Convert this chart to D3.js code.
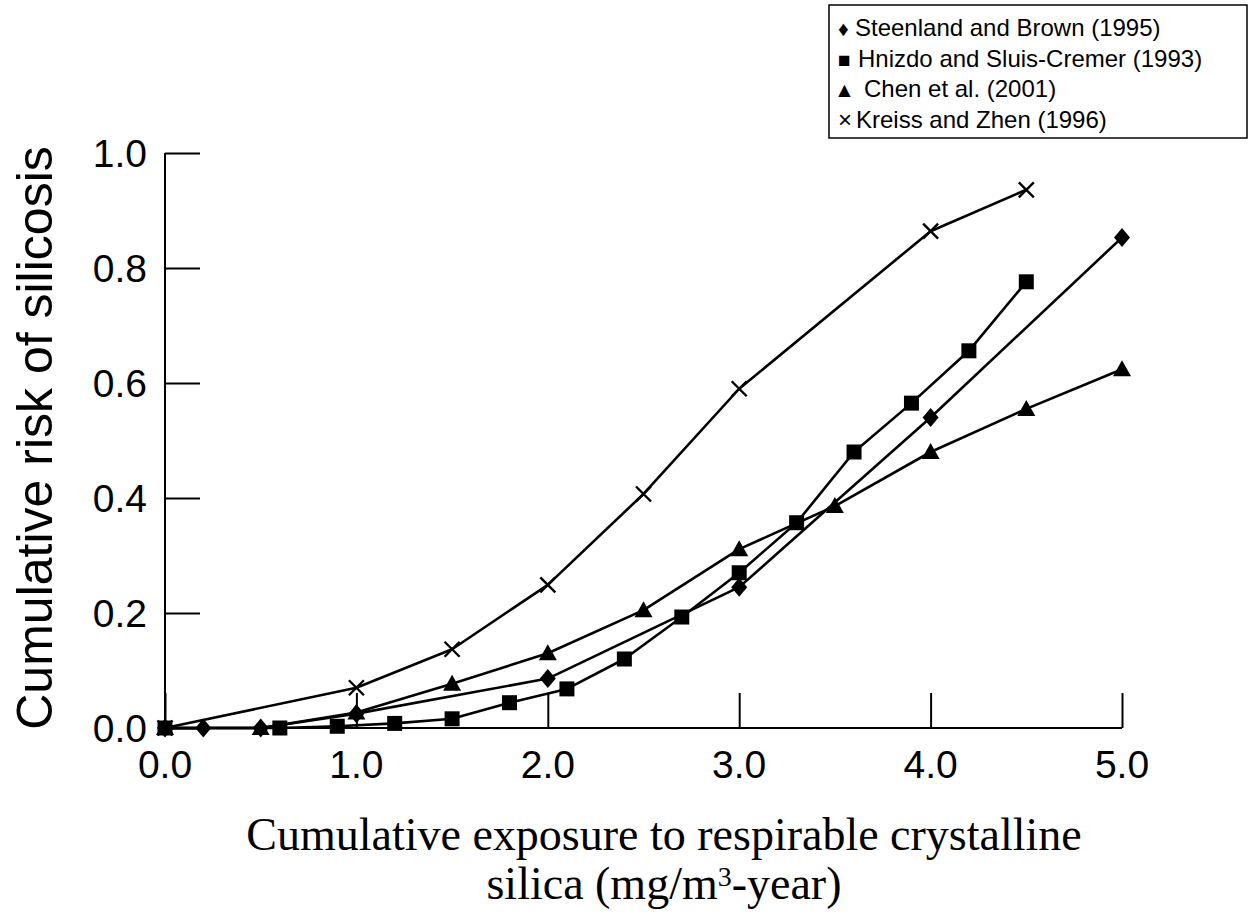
<!DOCTYPE html>
<html><head><meta charset="utf-8">
<script src="https://cdn.jsdelivr.net/npm/d3@7"></script>
<style>body{margin:0;background:#fff}svg{display:block}</style>
</head><body>
<svg id="c" width="1250" height="914"></svg>
<script>
// ---- data ----
const xTicks = [0, 1, 2, 3, 4, 5];
const yTicks = [0, 0.2, 0.4, 0.6, 0.8, 1.0];
const seriesNames = ["Steenland and Brown (1995)", "Hnizdo and Sluis-Cremer (1993)", "Chen et al. (2001)", "Kreiss and Zhen (1996)"];
const seriesSymbols = ["diamond", "square", "triangle", "cross"];
const legendGlyphs = ["\u2666", "\u25A0", "\u25B2", "\u00D7"];
const steenlandX = [0, 0.2, 0.5, 1.0, 2.0, 3.0, 4.0, 5.0];
const steenlandY = [0, 0, 0, 0.025, 0.086, 0.245, 0.54, 0.853];
const hnizdoX = [0, 0.6, 0.9, 1.2, 1.5, 1.8, 2.1, 2.4, 2.7, 3.0, 3.3, 3.6, 3.9, 4.2, 4.5];
const hnizdoY = [0, 0, 0.003, 0.008, 0.016, 0.044, 0.068, 0.12, 0.193, 0.27, 0.357, 0.48, 0.565, 0.656, 0.776];
const chenX = [0, 0.5, 1.0, 1.5, 2.0, 2.5, 3.0, 3.5, 4.0, 4.5, 5.0];
const chenY = [0, 0, 0.027, 0.077, 0.13, 0.205, 0.311, 0.386, 0.48, 0.555, 0.624];
const kreissX = [0, 1.0, 1.5, 2.0, 2.5, 3.0, 4.0, 4.5];
const kreissY = [0, 0.07, 0.137, 0.249, 0.407, 0.59, 0.864, 0.936];

const series = [
  {name: seriesNames[0], sym: seriesSymbols[0], xs: steenlandX, ys: steenlandY},
  {name: seriesNames[1], sym: seriesSymbols[1], xs: hnizdoX, ys: hnizdoY},
  {name: seriesNames[2], sym: seriesSymbols[2], xs: chenX, ys: chenY},
  {name: seriesNames[3], sym: seriesSymbols[3], xs: kreissX, ys: kreissY}
];

const svg = d3.select("#c");
const x = d3.scaleLinear().domain([0, 5]).range([165, 1122]);
const y = d3.scaleLinear().domain([0, 1]).range([728, 153]);
const SANS = "Liberation Sans, Arial, sans-serif";

// axes
const xAxis = d3.axisTop(x).tickValues(xTicks).tickSize(35).tickFormat("");
const gx = svg.append("g").attr("transform", "translate(0,728)").call(xAxis);
gx.select(".domain").remove();
gx.selectAll("line").attr("stroke", "#000").attr("stroke-width", 2);
svg.append("line").attr("x1", x(0)).attr("x2", x(5)).attr("y1", 728).attr("y2", 728).attr("stroke", "#000").attr("stroke-width", 2);

const yAxis = d3.axisRight(y).tickValues(yTicks).tickSize(35).tickFormat("");
const gy = svg.append("g").attr("transform", "translate(165,0)").call(yAxis);
gy.select(".domain").remove();
gy.selectAll("line").attr("stroke", "#000").attr("stroke-width", 2);
svg.append("line").attr("x1", 165).attr("x2", 165).attr("y1", y(1)).attr("y2", y(0)).attr("stroke", "#000").attr("stroke-width", 2);

// tick labels
svg.append("g").selectAll("text").data(yTicks).join("text")
  .attr("x", 147).attr("y", d => y(d) + 14)
  .attr("text-anchor", "end")
  .attr("font-family", SANS).attr("font-size", 39)
  .text(d => d.toFixed(1));
svg.append("g").selectAll("text").data(xTicks).join("text")
  .attr("x", d => x(d)).attr("y", 778)
  .attr("text-anchor", "middle")
  .attr("font-family", SANS).attr("font-size", 39)
  .text(d => d.toFixed(1));

// axis titles
svg.append("text")
  .attr("transform", "translate(52,438) rotate(-90)")
  .attr("text-anchor", "middle")
  .attr("font-family", SANS).attr("font-size", 50)
  .text("Cumulative risk of silicosis");
const SERIF = "Liberation Serif, Times New Roman, serif";
svg.append("text")
  .attr("text-anchor", "middle")
  .attr("font-family", SERIF).attr("font-size", 46)
  .attr("x", 664).attr("y", 850)
  .text("Cumulative exposure to respirable crystalline");
const t2 = svg.append("text")
  .attr("text-anchor", "middle")
  .attr("font-family", SERIF).attr("font-size", 46)
  .attr("x", 664).attr("y", 899);
t2.append("tspan").text("silica (mg/m");
t2.append("tspan").attr("dy", -13).attr("font-size", 28).text("3");
t2.append("tspan").attr("dy", 13).text("-year)");

// lines
const line = d3.line().x(d => x(d[0])).y(d => y(d[1]));
function symPath(sym) {
  if (sym === "diamond") return "M0,-9.5L8,0L0,9.5L-8,0Z";
  if (sym === "square") return "M-7.5,-7.5H7.5V7.5H-7.5Z";
  if (sym === "triangle") return "M0,-9L9,7L-9,7Z";
  return "M-7.5,-7.5L7.5,7.5M-7.5,7.5L7.5,-7.5";
}
series.forEach(s => {
  const pts = s.xs.map((v, i) => [v, s.ys[i]]);
  svg.append("path").datum(pts).attr("d", line)
    .attr("fill", "none").attr("stroke", "#000").attr("stroke-width", 2.6).attr("stroke-linejoin", "round");
});
series.forEach(s => {
  const pts = s.xs.map((v, i) => [v, s.ys[i]]);
  const g = svg.append("g");
  g.selectAll("path").data(pts).join("path")
    .attr("transform", d => `translate(${x(d[0])},${y(d[1])})`)
    .attr("d", symPath(s.sym))
    .attr("fill", s.sym === "cross" ? "none" : "#000")
    .attr("stroke", s.sym === "cross" ? "#000" : "none")
    .attr("stroke-width", 2.4);
});

// legend
svg.append("rect").attr("x", 829).attr("y", 5).attr("width", 418).attr("height", 133)
  .attr("fill", "#fff").attr("stroke", "#000").attr("stroke-width", 1.5);
const lg = svg.append("g").attr("font-family", SANS).attr("font-size", 24);
const glyphX = [838, 838, 834, 838];
const textX = [855, 858, 864, 856];
seriesNames.forEach((n, i) => {
  const by = 36 + i * 30.5;
  lg.append("text").attr("x", glyphX[i]).attr("y", by).attr("font-size", i === 3 ? 24 : 21).text(legendGlyphs[i]);
  lg.append("text").attr("x", textX[i]).attr("y", by).text(n);
});
</script>
</body></html>
